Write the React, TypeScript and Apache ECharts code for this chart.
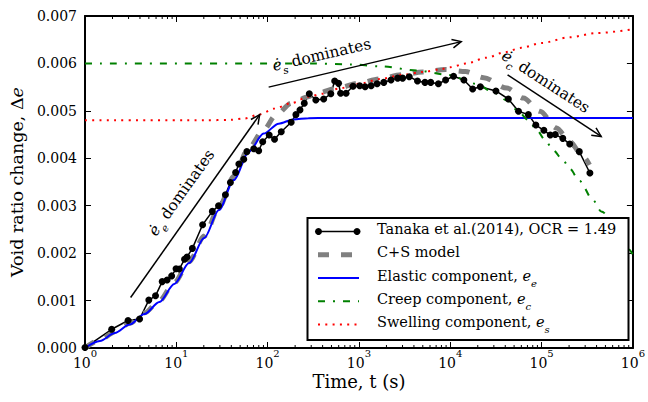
import React, { useEffect, useRef } from 'react';
import * as echarts from 'echarts';

const FONT = '"DejaVu Serif", serif';
const FONT_PLAIN = 'DejaVu Serif';

// Tanaka et al. (2014) measured data
const tanakaT = [1, 1.96, 2.96, 3.96, 5.0, 5.92, 7.0, 7.93, 8.89, 9.93, 10.8, 12.3, 13.1, 15.0, 19.4, 24.8, 29.0, 34.5, 39.1, 44.6, 48.4, 54.8, 59.2, 70.5, 79.8, 88.3, 104, 119, 141, 181, 204, 226, 252, 286, 337, 411, 492, 542, 598, 630, 723, 861, 1019, 1169, 1361, 1581, 1871, 2244, 2655, 3006, 3556, 4375, 5284, 6109, 7413, 8892, 10864, 14093, 17579, 21330, 31623, 43251, 55847, 71614, 86497, 105925, 124451, 141254, 170608, 203236, 258821, 338065];
const tanakaDe = [0.00001, 0.000395, 0.00058, 0.000612, 0.00101, 0.0011, 0.0014, 0.001435, 0.00152, 0.00167, 0.001667, 0.00187, 0.00192, 0.0021, 0.0026, 0.00288, 0.003, 0.00323, 0.00349, 0.0037, 0.00388, 0.00398, 0.00414, 0.0042, 0.00416, 0.00435, 0.00449, 0.0044, 0.00456, 0.00476, 0.00492, 0.00502, 0.00516, 0.00536, 0.00523, 0.00525, 0.00536, 0.00563, 0.00558, 0.00537, 0.00537, 0.00552, 0.00553, 0.00551, 0.00553, 0.00557, 0.0056, 0.00565, 0.00569, 0.00569, 0.00572, 0.00563, 0.0056, 0.0056, 0.00557, 0.00565, 0.00573, 0.00565, 0.00546, 0.00551, 0.00542, 0.00525, 0.00499, 0.00492, 0.0047, 0.00459, 0.00449, 0.0045, 0.00442, 0.0043, 0.00414, 0.00369];

// C+S model
const csT = [1, 1.456, 2.12, 3.08, 4.49, 6.53, 9.51, 13.8, 20.2, 29.3, 42.7, 62.1, 90.5, 122, 182, 279, 343, 589, 977, 1679, 2884, 4966, 8913, 14655, 23227, 41687, 63241, 95940, 145546, 203236, 283792, 334965];
const csDe = [0, 0.00017, 0.00034, 0.00052, 0.00074, 0.001, 0.00138, 0.00182, 0.00236, 0.00296, 0.00362, 0.00422, 0.0046, 0.0049, 0.00516, 0.0053, 0.00537, 0.00548, 0.00558, 0.00567, 0.00576, 0.00582, 0.00587, 0.00583, 0.0057, 0.00548, 0.00527, 0.00499, 0.00464, 0.00435, 0.00404, 0.00386];

// Elastic component
const elasticT = [1, 1.456, 2.12, 3.08, 4.49, 6.53, 9.51, 13.8, 20.2, 29.3, 42.7, 62.1, 90.5, 132, 192, 279, 460, 1000000];
const elasticDe = [0, 0.000148, 0.000316, 0.000496, 0.000717, 0.00097, 0.00135, 0.00179, 0.00232, 0.00291, 0.00354, 0.00414, 0.00452, 0.00473, 0.00482, 0.004846, 0.00485, 0.00485];

// Creep component
const creepT = [1, 300, 800, 1700, 4400, 9300, 19500, 29000, 42000, 56000, 72000, 88000, 109000, 134000, 172000, 203000, 261000, 365000, 449000, 912000, 1000000];
const creepDe = [0.006, 0.006, 0.00598, 0.00594, 0.00585, 0.00576, 0.00557, 0.0054, 0.00522, 0.00498, 0.0048, 0.0046, 0.00439, 0.00417, 0.00396, 0.00378, 0.00352, 0.00312, 0.00288, 0.00207, 0.00196];

// Swelling component
const swellT = [1, 20, 40, 56, 80, 120, 180, 280, 400, 600, 1000, 1700, 3000, 5000, 8000, 10000, 15000, 25000, 40000, 60000, 100000, 200000, 400000, 1000000];
const swellDe = [0.0048, 0.0048, 0.00481, 0.00484, 0.00492, 0.00505, 0.00516, 0.0053, 0.00536, 0.00547, 0.00557, 0.00567, 0.00576, 0.00582, 0.00588, 0.00592, 0.006, 0.00612, 0.00624, 0.00633, 0.00643, 0.00655, 0.00664, 0.00672];

const decades = [1, 10, 100, 1000, 10000, 100000];
const minorMultipliers = [2, 3, 4, 5, 6, 7, 8, 9];

const legendMain = ['Tanaka et al.(2014), OCR = 1.49', 'C+S model', 'Elastic component, ', 'Creep component, ', 'Swelling component, '];
const legendSub = ['', '', 'e', 'c', 's'];

// annotations (data coordinates)
const arrows = [
  [3.16, 0.001065, 81.8, 0.00492],
  [102.6, 0.0055, 13180, 0.00646],
  [42400, 0.00576, 449000, 0.00446],
];
const notes = [
  { at: [11.9, 0.00325], rot: 54.5, sub: 'e' },
  { at: [396, 0.00614], rot: 13, sub: 's' },
  { at: [107900, 0.00558], rot: -33, sub: 'c' },
];

const zip = (a: number[], b: number[]) => a.map((t, i) => [t, b[i]]);

export default function App() {
  const ref = useRef<HTMLDivElement>(null);
  useEffect(() => {
    const chart = echarts.init(ref.current!, null, { renderer: 'svg' });
    const minorTicks: number[] = [];
    decades.forEach((d) => minorMultipliers.forEach((m) => minorTicks.push(d * m)));

    const axisLine = { show: true, onZero: false, lineStyle: { color: '#000', width: 2 } };
    const majorTick = { show: true, inside: true, length: 6, lineStyle: { color: '#000', width: 1 } };
    const richText = (size: number, subSize: number) => ({
      n: { font: `${size}px ${FONT_PLAIN}`, fontFamily: FONT_PLAIN, fontSize: size, lineHeight: 20, verticalAlign: 'top', fill: '#000' },
      i: { font: `italic ${size}px ${FONT_PLAIN}`, fontFamily: FONT_PLAIN, fontSize: size, fontStyle: 'italic', lineHeight: 20, verticalAlign: 'top', fill: '#000' },
      s: { font: `italic ${subSize}px ${FONT_PLAIN}`, fontFamily: FONT_PLAIN, fontSize: subSize, fontStyle: 'italic', lineHeight: 10, verticalAlign: 'bottom', fill: '#000' },
    });

    // legend box drawn as a custom series in pixel space so it sits above the lines
    const legendX0 = 318, legendX1 = 359, legendTextX = 377;
    const rowY = [231.5, 254.8, 278, 301.3, 324.5];
    const legendStyles = [
      { stroke: '#000', lineWidth: 1.5 },
      { stroke: '#808080', lineWidth: 5, lineDash: [11, 12] },
      { stroke: '#0000ff', lineWidth: 2 },
      { stroke: '#008000', lineWidth: 2, lineDash: [7, 8, 2, 8] },
      { stroke: '#ff0000', lineWidth: 2, lineDash: [2, 5.3] },
    ];
    const legendChildren: any[] = [
      { type: 'rect', shape: { x: 307.5, y: 218, width: 321, height: 122 }, style: { fill: '#fff', stroke: '#000', lineWidth: 2 } },
    ];
    legendStyles.forEach((st, k) => {
      legendChildren.push({ type: 'line', shape: { x1: legendX0, y1: rowY[k], x2: legendX1, y2: rowY[k] }, style: st });
      const txt = '{n|' + legendMain[k] + '}' + (legendSub[k] ? '{i|e}{s|' + legendSub[k] + '}' : '');
      legendChildren.push({
        type: 'text', x: legendTextX, y: rowY[k],
        style: { text: txt, rich: richText(14.5, 10), font: `14.5px ${FONT_PLAIN}`, fontFamily: FONT_PLAIN, fontSize: 14.5, fill: '#000', align: 'left', verticalAlign: 'middle' },
      });
    });
    [318.5, 357].forEach((x) => legendChildren.push({ type: 'circle', shape: { cx: x, cy: rowY[0], r: 3.5 }, style: { fill: '#000' } }));

    chart.setOption({
      animation: false,
      grid: { left: 85, right: 11, top: 16, bottom: 54, containLabel: false },
      xAxis: [
        {
          type: 'log', logBase: 10, min: 1, max: 1000000, position: 'bottom',
          axisLine, axisTick: majorTick, splitLine: { show: false }, minorTick: { show: false },
          axisLabel: {
            margin: 0, color: '#000',
            formatter: (v: number) => '{b|10}{s|' + Math.round(Math.log10(v)) + '}',
            rich: {
              b: { fontFamily: FONT, fontSize: 14, lineHeight: 22, verticalAlign: 'bottom', color: '#000' },
              s: { fontFamily: FONT, fontSize: 10, lineHeight: 8, verticalAlign: 'top', color: '#000' },
            },
          },
          name: 'Time, t (s)', nameLocation: 'middle', nameGap: 24, nameMoveOverlap: false,
          nameTextStyle: { fontFamily: FONT, fontSize: 18, lineHeight: 18, color: '#000' },
        },
        {
          type: 'log', logBase: 10, min: 1, max: 1000000, position: 'top',
          axisLine, axisTick: majorTick, splitLine: { show: false }, axisLabel: { show: false },
        },
      ],
      yAxis: [
        {
          type: 'value', min: 0, max: 0.007, interval: 0.001, position: 'left',
          axisLine, axisTick: majorTick, splitLine: { show: false },
          axisLabel: { margin: 8, color: '#000', fontFamily: FONT, fontSize: 14, formatter: (v: number) => v.toFixed(3) },
          name: '{n|Void ratio change, Δ}{i|e}', nameLocation: 'middle', nameGap: 58, nameRotate: 90,
          nameTextStyle: {
            rich: {
              n: { fontFamily: FONT, fontSize: 17.5, color: '#000' },
              i: { fontFamily: FONT, fontSize: 17.5, fontStyle: 'italic', color: '#000' },
            },
          },
        },
        {
          type: 'value', min: 0, max: 0.007, interval: 0.001, position: 'right',
          axisLine, axisTick: majorTick, splitLine: { show: false }, axisLabel: { show: false },
        },
      ],
      series: [
        {
          type: 'line', name: 'Tanaka', data: zip(tanakaT, tanakaDe), symbol: 'circle', symbolSize: 7, showAllSymbol: true,
          lineStyle: { color: '#000', width: 1.5 }, itemStyle: { color: '#000' }, z: 3,
        },
        {
          type: 'line', name: 'C+S', data: zip(csT, csDe), showSymbol: false, smooth: 0.3, smoothMonotone: 'x',
          lineStyle: { color: '#808080', width: 5, type: [11, 12] }, z: 3,
        },
        {
          type: 'line', name: 'Elastic', data: zip(elasticT, elasticDe), showSymbol: false, smooth: 0.3, smoothMonotone: 'x',
          lineStyle: { color: '#0000ff', width: 2 }, z: 3,
        },
        {
          type: 'line', name: 'Creep', data: zip(creepT, creepDe), showSymbol: false, smooth: 0.3, smoothMonotone: 'x',
          lineStyle: { color: '#008000', width: 2, type: [7, 8, 2, 8] }, z: 3,
        },
        {
          type: 'line', name: 'Swelling', data: zip(swellT, swellDe), showSymbol: false, smooth: 0.3, smoothMonotone: 'x',
          lineStyle: { color: '#ff0000', width: 2, type: [2, 5.3] }, z: 3,
        },
        {
          type: 'custom', name: 'minorTicks', data: minorTicks.map((t) => [t, 0]), silent: true, clip: false, z: 5,
          renderItem: (_p: any, api: any) => {
            const t = api.value(0);
            const b = api.coord([t, 0]);
            const tp = api.coord([t, 0.007]);
            return {
              type: 'group',
              children: [
                { type: 'line', shape: { x1: b[0], y1: b[1], x2: b[0], y2: b[1] - 3 }, style: { stroke: '#000', lineWidth: 1 } },
                { type: 'line', shape: { x1: tp[0], y1: tp[1], x2: tp[0], y2: tp[1] + 3 }, style: { stroke: '#000', lineWidth: 1 } },
              ],
            };
          },
        },
        {
          type: 'custom', name: 'arrows', data: arrows, encode: { x: [0, 2], y: [1, 3] }, silent: true, clip: false, z: 6,
          renderItem: (_p: any, api: any) => {
            const p1 = api.coord([api.value(0), api.value(1)]);
            const p2 = api.coord([api.value(2), api.value(3)]);
            const ang = Math.atan2(p2[1] - p1[1], p2[0] - p1[0]);
            const L = 10, w = 0.45;
            const h1 = [p2[0] - L * Math.cos(ang - w), p2[1] - L * Math.sin(ang - w)];
            const h2 = [p2[0] - L * Math.cos(ang + w), p2[1] - L * Math.sin(ang + w)];
            return {
              type: 'group',
              children: [
                { type: 'line', shape: { x1: p1[0], y1: p1[1], x2: p2[0], y2: p2[1] }, style: { stroke: '#000', lineWidth: 1.5 } },
                { type: 'polyline', shape: { points: [h1, p2, h2] }, style: { stroke: '#000', lineWidth: 1.5, fill: 'none' } },
              ],
            };
          },
        },
        {
          type: 'custom', name: 'notes', data: notes.map((n) => n.at), silent: true, clip: false, z: 6,
          renderItem: (p: any, api: any) => {
            const n = notes[p.dataIndex];
            const c = api.coord([api.value(0), api.value(1)]);
            const r = richText(15.5, 10.5);
            return {
              type: 'text', x: c[0], y: c[1], rotation: (n.rot * Math.PI) / 180,
              style: { text: '{i|ė}{s|' + n.sub + '}{n| dominates}', rich: r, align: 'center', verticalAlign: 'middle' },
            };
          },
        },
        {
          type: 'custom', name: 'legend', data: [[1, 0]], silent: true, clip: false, z: 20,
          renderItem: () => ({ type: 'group', children: legendChildren }),
        },
      ],
    });
    return () => chart.dispose();
  }, []);
  return <div ref={ref} style={{ width: 648, height: 402, position: 'absolute', left: 0, top: 0 }} />;
}
